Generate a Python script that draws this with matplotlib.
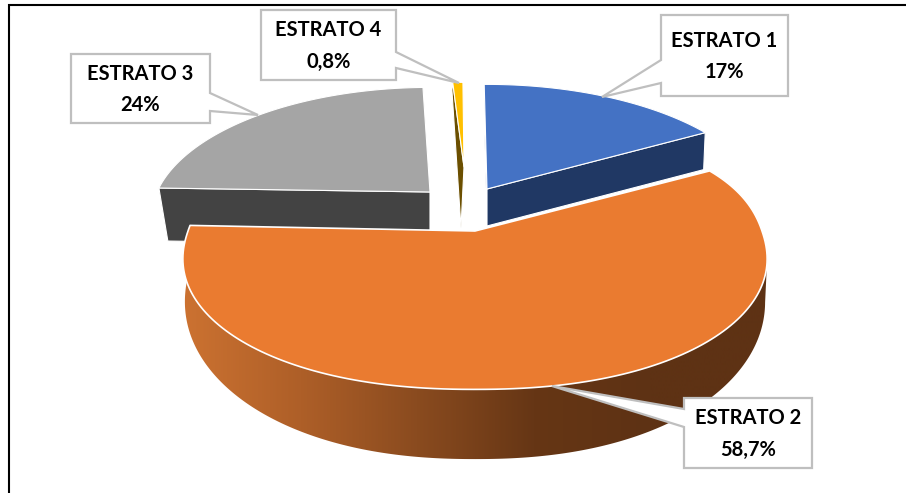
import numpy as np
import matplotlib
matplotlib.use("Agg")
import matplotlib.pyplot as plt
from matplotlib.colors import LinearSegmentedColormap
from matplotlib.patches import Polygon

# data
names = ["ESTRATO 1", "ESTRATO 2", "ESTRATO 3", "ESTRATO 4"]
values = [17, 58.7, 24, 0.8]

# colours
top_colors = ["#4472C4", "#EA7B30", "#A5A5A5", "#FFC000"]
side_colors = ["#203864", "#EA7B30", "#434343", "#6B4F00"]
wall_cmap = LinearSegmentedColormap.from_list(
    "wall", ["#CC7231", "#AE5F28", "#8A4B1F", "#663615", "#5E3214", "#5E3214"]
)

# layout of the fake 3D pie, in pixels:
# (apex x, apex y, radius, vertical scale, bulge, horizontal perspective)
TOP_SHAPE = [
    (487, 189, 276, 126, 1, 0.2045),
    (475, 231, 287, 126, 0.9, 0.15),
    (430, 192, 273, 126, 1, 0.2045),
    (464, 167, 245, 102, 1, 0.2045),
]
BOTTOM_SHAPE = [
    (487, 226, 274, 126, 1, 0.2045),
    (475, 268, 285, 152, 0.9, 0.15),
    (430, 245, 264, 126, 1, 0.2045),
    (461, 228, 197, 166, 1, 0.2045),
]
PERSPECTIVE = 0.2045
START_ANGLE = -0.7
# the labels add up to 100.5, the small slice is pulled back to stay before the top
ANGLE_SHIFT = [0, 0, 0, -1.4]

# callouts: box left, right, top, bottom, pointer base y0, y1, tip x, tip y
BOXES = [
    (661, 788, 15, 96, 60, 83, 602, 97),
    (684, 812, 398, 468, 409, 427, 552, 386),
    (71, 210, 54, 123, 93, 111, 258, 115),
    (261, 396, 10, 80, 52, 68, 459, 83),
]


def project(shape, angle):
    ax0, ay0, radius, scale, bulge, persp_x = shape
    rad = np.radians(angle)
    u = np.sign(np.sin(rad)) * np.abs(np.sin(rad)) ** bulge
    v = np.sign(np.cos(rad)) * np.abs(np.cos(rad)) ** bulge
    return np.column_stack([ax0 + radius * u / (1 + persp_x * v),
                            ay0 - scale * v / (1 + PERSPECTIVE * v)])


def sector(shape, a0, a1):
    arc = project(shape, np.linspace(a0, a1, 160))
    return np.vstack([[shape[0], shape[1]], arc])


def radial_wall(i, angle):
    top = project(TOP_SHAPE[i], np.array([angle]))[0]
    bottom = project(BOTTOM_SHAPE[i], np.array([angle]))[0]
    return [TOP_SHAPE[i][:2], top, bottom, BOTTOM_SHAPE[i][:2]]


edges = START_ANGLE + 3.6 * np.concatenate([[0], np.cumsum(values)])
starts = edges[:-1] + ANGLE_SHIFT
ends = edges[1:] + ANGLE_SHIFT

fig = plt.figure(figsize=(9.06, 4.93), dpi=100)
ax = fig.add_axes([0, 0, 1, 1])
ax.axis("off")

# frame only shows on the left and on top
ax.plot([9, 9, 906], [493, 5, 5], color="black", lw=1.5, solid_joinstyle="miter")

# back slices first
for i, angle in [(2, starts[2]), (0, starts[0]), (0, ends[0]), (3, starts[3])]:
    ax.add_patch(Polygon(radial_wall(i, angle), closed=True, fc=side_colors[i], ec="white", lw=0.8))
for i in [2, 0, 3]:
    ax.add_patch(Polygon(sector(TOP_SHAPE[i], starts[i], ends[i]), closed=True,
                         fc=top_colors[i], ec="white", lw=0.8, joinstyle="round"))

# outer wall of the big slice, shaded left to right
angles = np.linspace(starts[1], ends[1], 360)
top_arc = project(TOP_SHAPE[1], angles)
bottom_arc = project(BOTTOM_SHAPE[1], angles)
j_top = np.argmax(top_arc[:, 0])
j_bottom = np.argmax(bottom_arc[:, 0])
outline = np.vstack([top_arc[j_top], bottom_arc[j_bottom:], top_arc[-1], TOP_SHAPE[1][:2]])
x_min, x_max = top_arc[:, 0].min(), top_arc[:, 0].max()
wall = ax.imshow(np.linspace(0, 1, 256).reshape(1, -1), cmap=wall_cmap, aspect="auto",
                 extent=(x_min, x_max, 493, 0), interpolation="bilinear")
clip = Polygon(outline, closed=True, transform=ax.transData, fc="none", ec="none")
ax.add_patch(clip)
wall.set_clip_path(clip)

ax.add_patch(Polygon(sector(TOP_SHAPE[1], starts[1], ends[1]), closed=True,
                     fc=top_colors[1], ec="white", lw=1.2, joinstyle="round"))

# callouts
for name, value, box in zip(names, values, BOXES):
    left, right, top, bottom, y0, y1, tx, ty = box
    if tx < left:
        callout = [(left, top), (right, top), (right, bottom), (left, bottom), (left, y1), (tx, ty), (left, y0)]
    else:
        callout = [(left, top), (right, top), (right, y0), (tx, ty), (right, y1), (right, bottom), (left, bottom)]
    ax.add_patch(Polygon(callout, closed=True, fc="white", ec="#BFBFBF", lw=1.6, joinstyle="miter"))
    pct = f"{value:g}".replace(".", ",") + "%"
    ax.text((left + right) / 2, (top + bottom) / 2 + 1, f"{name}\n{pct}", ha="center", va="center",
            family="Lato", weight="bold", fontsize=14.5, linespacing=1.7, color="black")

ax.set_xlim(0, 906)
ax.set_ylim(493, 0)
fig.savefig("out.png", dpi=100)
